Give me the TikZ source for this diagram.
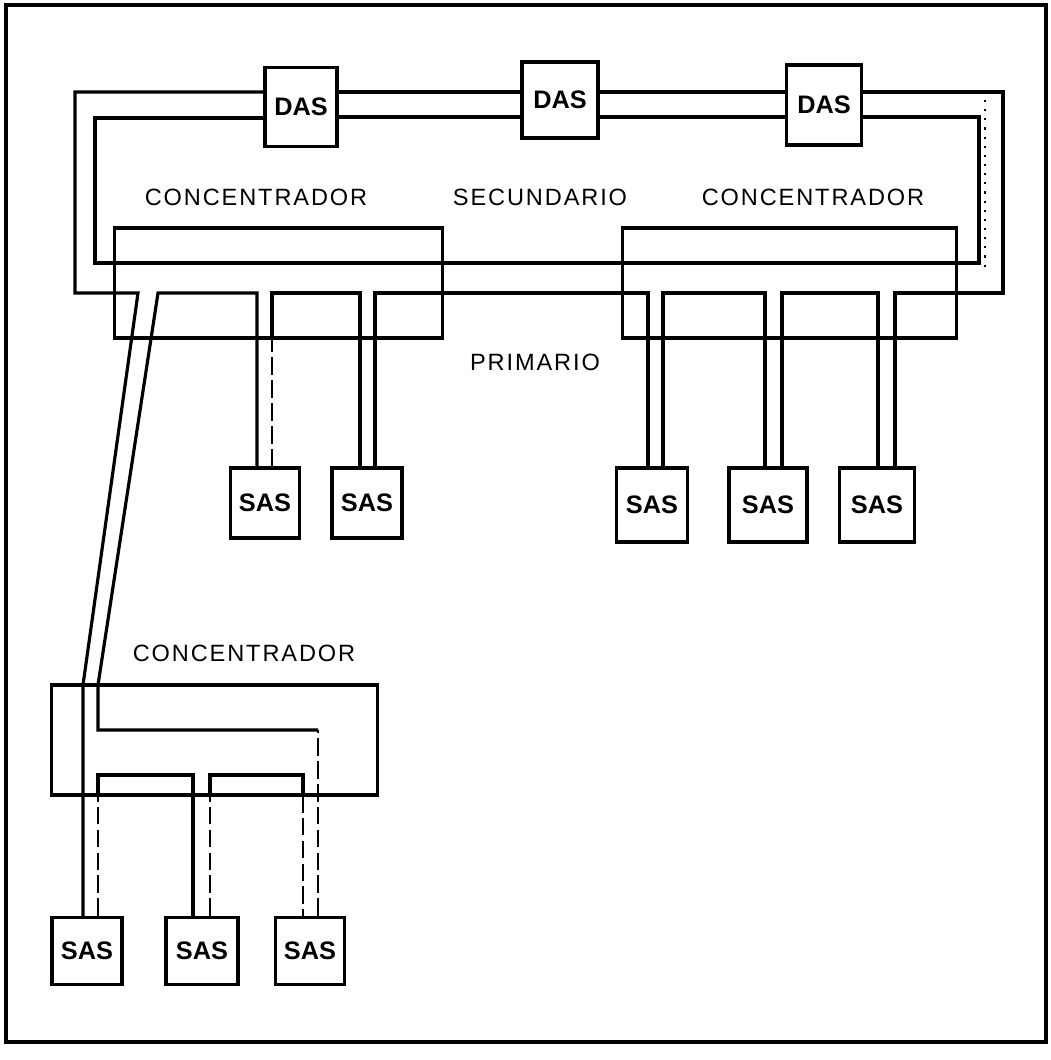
\documentclass[tikz,border=0pt]{standalone}
\usepackage{fontspec}
\setmainfont{Liberation Sans}
\newfontfamily\lblfont[LetterSpace=8]{Liberation Sans}

\begin{document}
\begin{tikzpicture}[x=0.01cm,y=-0.01cm]
\useasboundingbox (0,0) rectangle (1051,1060);
\tikzstyle{ring}=[line width=0.9pt]
\tikzstyle{faint}=[line width=0.55pt, dash pattern=on 5pt off 1.5pt]
\tikzstyle{station}=[draw, line width=0.9pt, inner sep=0pt, font=\fontsize{7.2}{8}\selectfont\bfseries]
\tikzstyle{conc}=[draw, line width=0.9pt, inner sep=0pt]
\tikzstyle{lbl}=[inner sep=0pt, font=\lblfont\fontsize{6.7}{8}\selectfont]

\draw[line width=1pt] (6,5) rectangle (1046,1042);

\node[station, minimum width=0.72cm, minimum height=0.79cm] (das1) at (301,107) {DAS};
\node[station, minimum width=0.76cm, minimum height=0.76cm] (das2) at (560,100) {DAS};
\node[station, minimum width=0.75cm, minimum height=0.80cm] (das3) at (824,105) {DAS};

\node[conc, minimum width=3.27cm, minimum height=1.1cm] (concA) at (278.5,283) {};
\node[conc, minimum width=3.33cm, minimum height=1.1cm] (concB) at (789.5,283) {};
\node[conc, minimum width=3.25cm, minimum height=1.1cm] (concC) at (214.5,740) {};

\node[station, minimum width=0.69cm, minimum height=0.70cm] (sas1) at (265,503) {SAS};
\node[station, minimum width=0.70cm, minimum height=0.70cm] (sas2) at (367,503) {SAS};
\node[station, minimum width=0.71cm, minimum height=0.74cm] (sas3) at (652,505) {SAS};
\node[station, minimum width=0.78cm, minimum height=0.74cm] (sas4) at (768,505) {SAS};
\node[station, minimum width=0.75cm, minimum height=0.74cm] (sas5) at (877,505) {SAS};
\node[station, minimum width=0.70cm, minimum height=0.67cm] (sas6) at (87,951) {SAS};
\node[station, minimum width=0.72cm, minimum height=0.67cm] (sas7) at (202,951) {SAS};
\node[station, minimum width=0.69cm, minimum height=0.67cm] (sas8) at (310,951) {SAS};

\node[lbl] (lblA) at (256,197) {CONCENTRADOR};
\node[lbl] (lblsec) at (540,197) {SECUNDARIO};
\node[lbl] (lblB) at (813,197) {CONCENTRADOR};
\node[lbl] (lblpri) at (535,362) {PRIMARIO};
\node[lbl] (lblC) at (244,653) {CONCENTRADOR};

% secundario
\draw[ring] (das1.west |- 0,118) -- (95,118) -- (95,263) -- (979,263) -- (979,117) -- (das3.east |- 0,117);
\draw[ring] (das1.east |- 0,117) -- (das2.west |- 0,117);
\draw[ring] (das2.east |- 0,117) -- (das3.west |- 0,117);

% primario
\draw[ring] (das1.east |- 0,92) -- (das2.west |- 0,92);
\draw[ring] (das2.east |- 0,92) -- (das3.west |- 0,92);
\draw[ring] (das1.west |- 0,92) -- (75,92) -- (75,293) -- (138,293) -- (83,685) -- (sas6.north -| 83,0);
\draw[faint] (sas6.north -| 98,0) -- (98,795);
\draw[ring] (98,795) -- (98,775) -- (193,775) -- (sas7.north -| 193,0);
\draw[faint] (sas7.north -| 210,0) -- (210,795);
\draw[ring] (210,795) -- (210,775) -- (303,775) -- (303,795);
\draw[faint] (303,795) -- (sas8.north -| 303,0);
\draw[faint] (sas8.north -| 318,0) -- (318,730);
\draw[ring] (318,730) -- (98,730) -- (98,685) -- (158,293) -- (257,293) -- (sas1.north -| 257,0);
\draw[faint] (sas1.north -| 272,0) -- (272,338);
\draw[ring] (272,338) -- (272,293) -- (360,293) -- (sas2.north -| 360,0);
\draw[ring] (sas2.north -| 375,0) -- (375,293) -- (648,293) -- (sas3.north -| 648,0);
\draw[ring] (sas3.north -| 663,0) -- (663,293) -- (765,293) -- (sas4.north -| 765,0);
\draw[ring] (sas4.north -| 782,0) -- (782,293) -- (878,293) -- (sas5.north -| 878,0);
\draw[ring] (sas5.north -| 895,0) -- (895,293) -- (1003,293) -- (1003,92) -- (das3.east |- 0,92);

\draw[dotted, line width=0.6pt] (985,100) -- (985,272);
\end{tikzpicture}
\end{document}
